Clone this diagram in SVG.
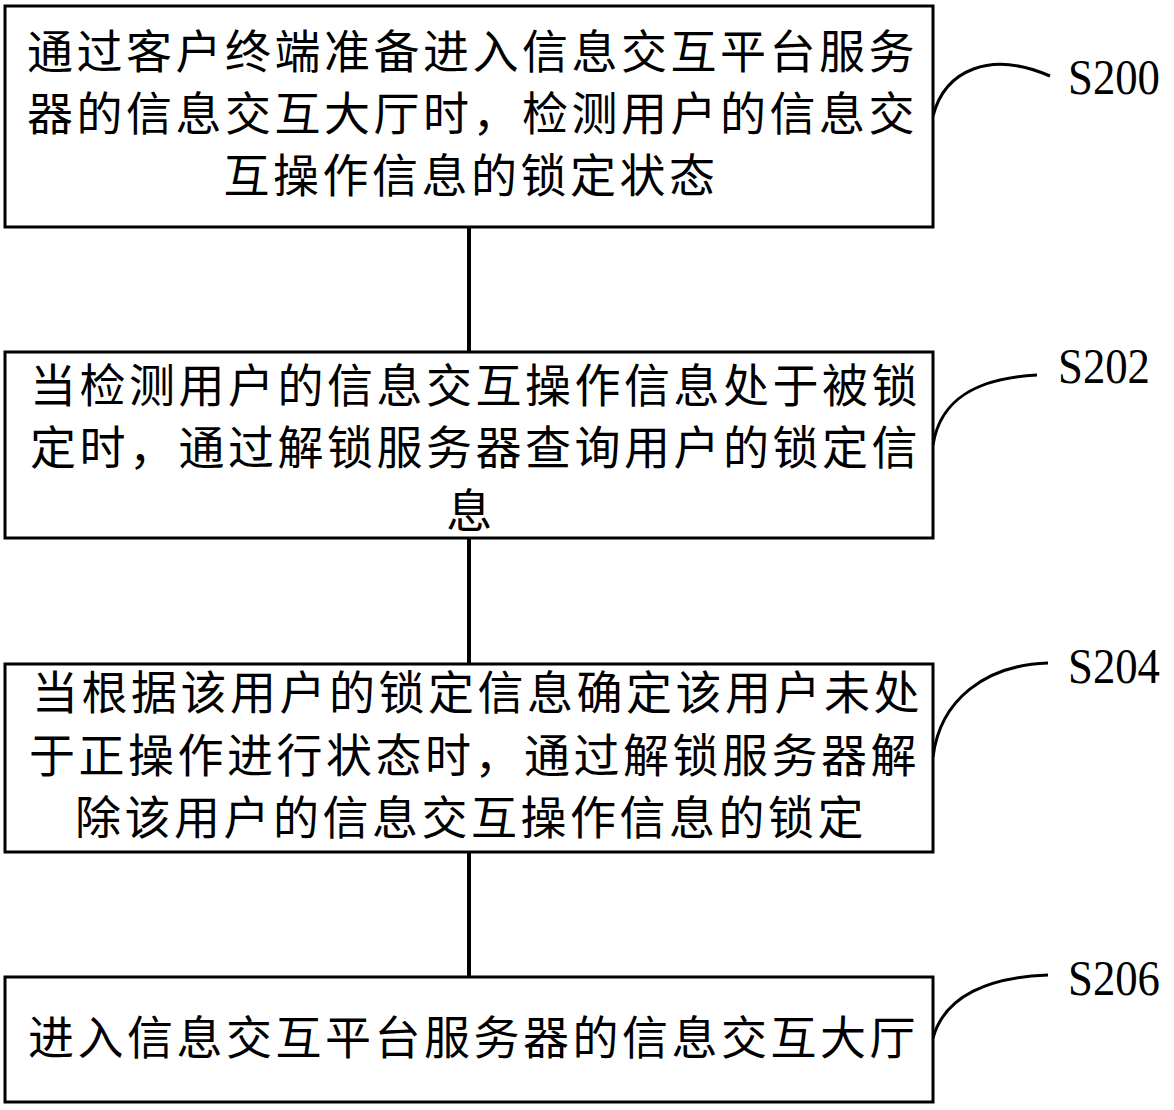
<svg xmlns="http://www.w3.org/2000/svg" width="1174" height="1110" viewBox="0 0 1174 1110">
<style>
.box{fill:#fff;stroke:#000;stroke-width:3}
.t{font-family:"Noto Sans CJK SC","Noto Sans CJK JP",sans-serif;font-size:46px;letter-spacing:3.5px;fill:#000}
.c{text-anchor:middle}
.lab{font-family:"Liberation Serif","Times New Roman",serif;font-size:50px;fill:#000}
.con{stroke:#000;stroke-width:4;fill:none}
.cur{stroke:#000;stroke-width:3;fill:none}
</style>
<rect width="1174" height="1110" fill="#fff"/>
<g id="connectors">
<line class="con" x1="469" y1="227" x2="469" y2="352"/>
<line class="con" x1="469" y1="538" x2="469" y2="664"/>
<line class="con" x1="469" y1="852" x2="469" y2="977"/>
<path class="cur" d="M933,116 C945,70 990,50 1050,76"/>
<path class="cur" d="M933,445 C940,400 975,378 1037,375"/>
<path class="cur" d="M933,757 C940,700 985,665 1048,663"/>
<path class="cur" d="M933,1038 C945,995 990,977 1048,975"/>
</g>
<g id="S200">
<rect class="box" x="5" y="6" width="928" height="221"/>
<text class="t" x="27" y="68">通过客户终端准备进入信息交互平台服务</text>
<text class="t" x="27" y="130">器的信息交互大厅时，检测用户的信息交</text>
<text class="t c" x="471" y="192">互操作信息的锁定状态</text>
<text class="lab" x="1068" y="94" textLength="92" lengthAdjust="spacingAndGlyphs">S200</text>
</g>
<g id="S202">
<rect class="box" x="5" y="352" width="928" height="186"/>
<text class="t" x="30" y="402">当检测用户的信息交互操作信息处于被锁</text>
<text class="t" x="30" y="464">定时，通过解锁服务器查询用户的锁定信</text>
<text class="t c" x="471" y="527">息</text>
<text class="lab" x="1058" y="383" textLength="92" lengthAdjust="spacingAndGlyphs">S202</text>
</g>
<g id="S204">
<rect class="box" x="5" y="664" width="928" height="188"/>
<text class="t" x="32" y="709">当根据该用户的锁定信息确定该用户未处</text>
<text class="t" x="29" y="772">于正操作进行状态时，通过解锁服务器解</text>
<text class="t c" x="471" y="834">除该用户的信息交互操作信息的锁定</text>
<text class="lab" x="1068" y="683" textLength="92" lengthAdjust="spacingAndGlyphs">S204</text>
</g>
<g id="S206">
<rect class="box" x="5" y="977" width="928" height="125"/>
<text class="t" x="28" y="1054">进入信息交互平台服务器的信息交互大厅</text>
<text class="lab" x="1068" y="995" textLength="92" lengthAdjust="spacingAndGlyphs">S206</text>
</g>
</svg>
